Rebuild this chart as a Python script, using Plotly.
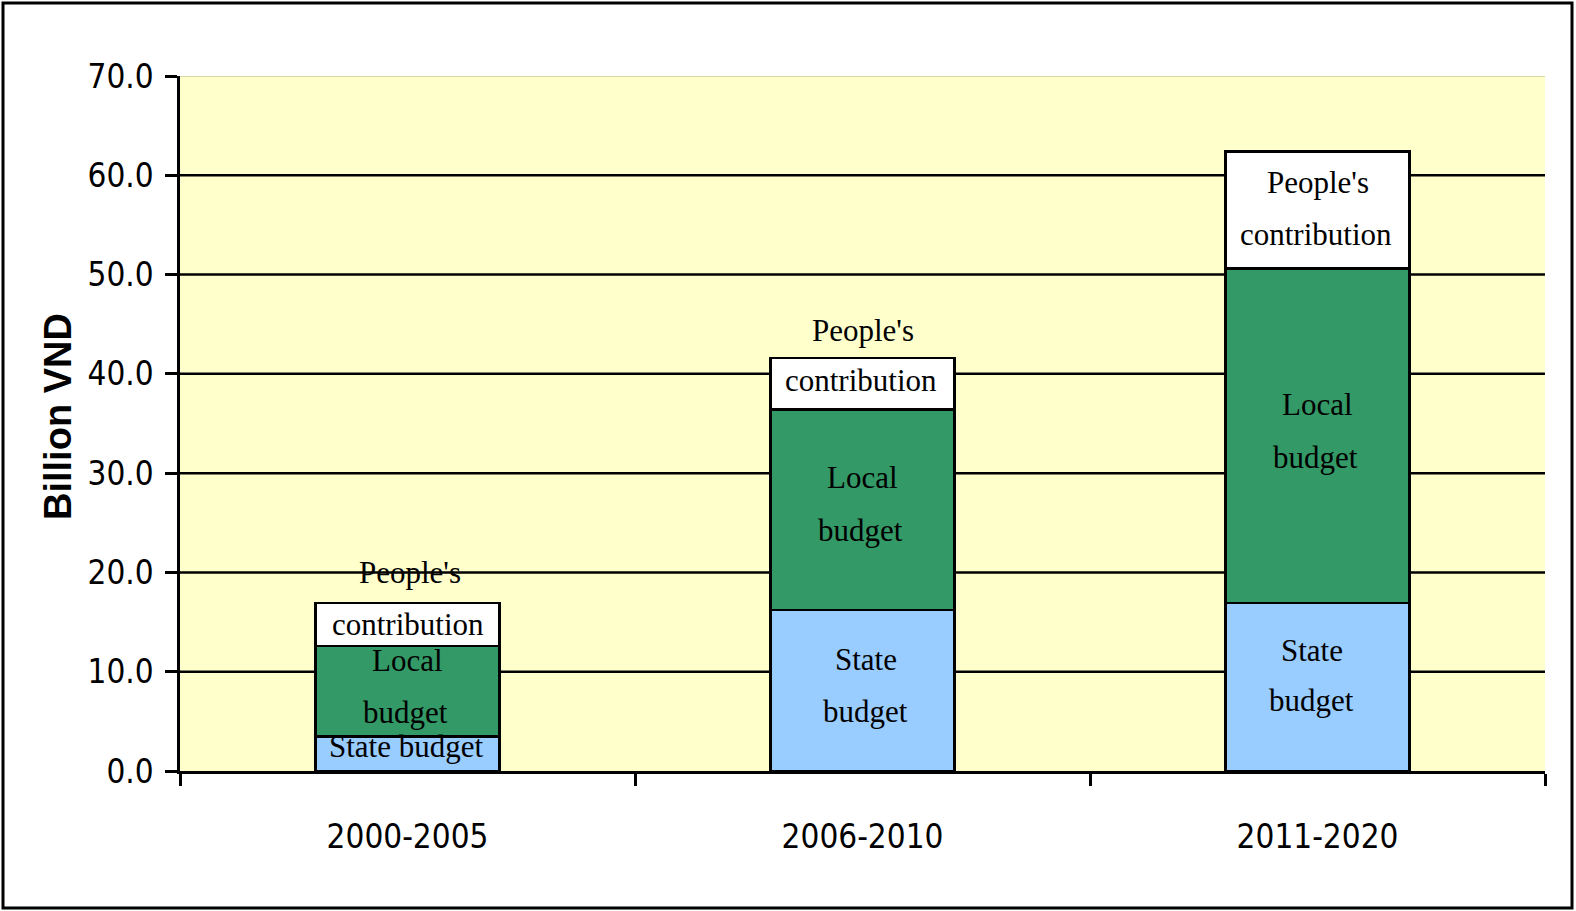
import plotly.graph_objects as go

categories = ["2000-2005", "2006-2010", "2011-2020"]
state_budget = [3.5, 16.2, 16.9]
local_budget = [9.1, 20.2, 33.7]
people_contribution = [4.3, 5.2, 11.8]
y_ticks = [0, 10, 20, 30, 40, 50, 60, 70]
y_tick_labels = ["0.0", "10.0", "20.0", "30.0", "40.0", "50.0", "60.0", "70.0"]

W, H = 1576, 911
ML, MR, MT, MB = 180, 31, 76, 140
PW, PH = W - ML - MR, H - MT - MB

fig = go.Figure()
series = [
    ("State budget", state_budget, "#99CCFF"),
    ("Local budget", local_budget, "#339966"),
    ("People's contribution", people_contribution, "#FFFFFF"),
]
for name, vals, col in series:
    fig.add_trace(go.Bar(
        x=categories, y=vals, name=name,
        marker=dict(color=col, line=dict(color="black", width=2.5)),
        hoverinfo="x+y+name",
    ))

# segment labels (line texts and pixel offsets from segment middle, + = down)
seg_labels = {
    "state": [
        [("State budget", -7, -2)],
        [("State", -31, 3), ("budget", 21, 3)],
        [("State", -37, -6), ("budget", 13, -6)],
    ],
    "local": [
        [("Local", -31, 0), ("budget", 21, -2)],
        [("Local", -32, 0), ("budget", 21, -2)],
        [("Local", -31, 0), ("budget", 22, -2)],
    ],
    "people": [
        [("People's", -52, 2), ("contribution", 0, 0)],
        [("People's", -53, 0), ("contribution", -3, -2)],
        [("People's", -28, 0), ("contribution", 24, -2)],
    ],
}
label_font = dict(family="Liberation Serif, Times New Roman, serif", size=31, color="black")
for i, cat in enumerate(categories):
    bottoms = [0, state_budget[i], state_budget[i] + local_budget[i]]
    vals = [state_budget[i], local_budget[i], people_contribution[i]]
    for key, b, v in zip(["state", "local", "people"], bottoms, vals):
        mid = b + v / 2
        for txt, dy, dx in seg_labels[key][i]:
            fig.add_annotation(x=cat, y=mid, xref="x", yref="y", text=txt,
                               showarrow=False, yshift=-dy, xshift=dx,
                               font=label_font)

# gridlines
shapes = []
for t in y_ticks[1:-1]:
    shapes.append(dict(type="line", xref="paper", yref="y", x0=0, x1=1, y0=t, y1=t,
                       line=dict(color="black", width=2.5), layer="below"))
shapes.append(dict(type="line", xref="paper", yref="y", x0=0, x1=1, y0=y_ticks[-1], y1=y_ticks[-1],
                   line=dict(color="#D8D8A8", width=2), layer="below"))
# outer border of the chart
shapes.append(dict(type="rect", xref="paper", yref="paper",
                   x0=(3 - ML) / PW, x1=(W - 4 - ML) / PW,
                   y0=(MT + PH - (H - 3)) / PH, y1=(MT + PH - 3) / PH,
                   line=dict(color="black", width=3), fillcolor="rgba(0,0,0,0)"))

fig.add_annotation(xref="paper", yref="paper", x=(58 - ML) / PW, y=(MT + PH - 417) / PH,
                   xanchor="center", yanchor="middle",
                   text="<b>Billion VND</b>", textangle=-90, showarrow=False,
                   font=dict(family="Liberation Sans, Arial, sans-serif", size=38, color="black"))

axis_font = dict(family="Liberation Sans Narrow, Arial Narrow, DejaVu Sans Condensed, Liberation Sans, sans-serif",
                 size=33, color="black")
fig.update_layout(
    width=W, height=H,
    margin=dict(l=ML, r=MR, t=MT, b=MB, autoexpand=False),
    barmode="stack", bargap=0.595,
    showlegend=False,
    paper_bgcolor="white", plot_bgcolor="#FFFFCC",
    shapes=shapes,
    xaxis=dict(type="category", tickson="boundaries", ticks="outside", ticklen=12,
               tickwidth=2.5, tickcolor="black", showline=True, linecolor="black",
               linewidth=2.5, showgrid=False, tickfont=axis_font, ticklabelstandoff=35),
    yaxis=dict(range=[0, 70], tickvals=y_ticks, ticktext=y_tick_labels, ticks="outside",
               ticklen=12, tickwidth=2.5, tickcolor="black", showline=True,
               linecolor="black", linewidth=2.5, showgrid=False, zeroline=False,
               tickfont=axis_font, ticklabelstandoff=5),
)

fig.write_html("out.html", config={"displayModeBar": False},
               post_script="document.body.style.margin='0';document.body.style.overflow='hidden';")
